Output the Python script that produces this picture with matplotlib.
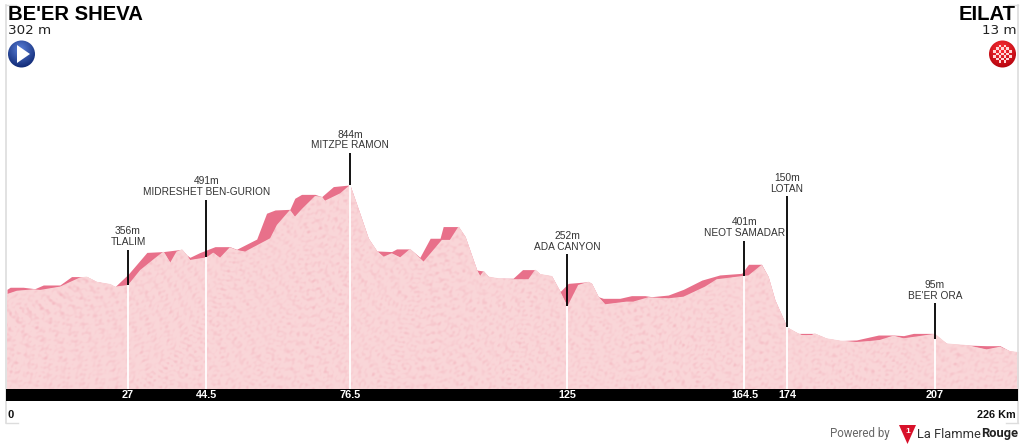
import matplotlib
matplotlib.use("Agg")
import matplotlib.pyplot as plt
from matplotlib.patches import Circle, Polygon, Rectangle
import numpy as np

# outer silhouette of the profile (dark band on top where the road climbs)
outer_km = [0, 0.7, 3.6, 6.2, 8.1, 11.8, 14.4, 17.8, 20.0, 23.0, 24.1, 27.1, 31.2, 34.9, 39.0, 40.1, 40.8,
            43.0, 46.4, 49.7, 51.2, 55.7, 57.9, 59.8, 63.1, 64.2, 65.7, 68.7, 70.2, 72.8, 76.5, 78.7, 80.6,
            82.5, 85.8, 86.9, 89.9, 92.1, 94.4, 96.6, 97.3, 100.7, 102.2, 104.8, 106.3, 107.4, 109.6, 112.9,
            115.0, 117.8, 118.9, 121.5, 123.4, 125.2, 129.7, 130.4, 131.9, 133.0, 136.7, 139.3, 142.3, 143.8,
            147.5, 150.9, 155.0, 159.0, 163.9, 165.4, 168.3, 169.8, 171.3, 174.0, 176.5, 180.2, 182.8, 185.8,
            189.5, 194.4, 197.7, 200.0, 202.2, 206.6, 209.6, 214.1, 218.5, 221.5, 223.7, 225.6]
outer_alt = [335, 345, 345, 338, 356, 356, 397, 397, 372, 361, 348, 410, 515, 519, 530, 502, 491,
             514, 543, 543, 530, 580, 706, 722, 725, 779, 798, 798, 787, 836, 844, 706, 584,
             522, 519, 532, 532, 491, 584, 584, 641, 641, 592, 429, 424, 397, 389, 389,
             431, 431, 410, 400, 324, 364, 372, 364, 299, 291, 291, 304, 304, 299,
             307, 335, 380, 405, 413, 457, 457, 397, 283, 150, 120, 120, 96, 85,
             88, 112, 112, 109, 120, 120, 71, 63, 60, 60, 34, 29]

# lighter ground below the dark band
ground_km = [0, 2.2, 5.9, 7.4, 11.8, 16.3, 17.8, 20.0, 23.0, 24.1, 27.0, 29.7, 33.4, 34.9, 36.4, 37.8, 39.0,
             40.1, 40.8, 44.5, 46.0, 47.5, 49.7, 51.2, 53.1, 58.7, 60.2, 63.1, 64.2, 65.7, 68.7, 70.2, 70.9,
             74.3, 76.5, 78.7, 80.6, 82.5, 84.0, 85.8, 87.7, 89.9, 92.9, 97.0, 98.8, 100.7, 102.2, 104.8,
             105.5, 106.3, 107.4, 109.6, 112.9, 116.3, 117.8, 118.9, 121.5, 123.0, 125.0, 127.4, 129.7, 130.4,
             131.9, 133.4, 138.2, 139.7, 143.0, 147.5, 150.9, 155.7, 158.3, 164.5, 165.4, 168.3, 169.8, 171.3,
             174.0, 176.5, 177.3, 179.5, 180.2, 182.8, 185.8, 189.5, 192.5, 194.7, 197.7, 200.0, 205.1, 207.0,
             209.6, 214.1, 218.5, 221.5, 223.7, 225.6]
ground_alt = [312, 328, 335, 332, 348, 393, 397, 372, 361, 348, 356, 429, 494, 519, 465, 519, 530,
              502, 478, 491, 514, 489, 540, 527, 519, 584, 649, 722, 689, 725, 790, 787, 767,
              803, 844, 706, 584, 522, 494, 511, 491, 532, 470, 576, 576, 641, 592, 429,
              400, 424, 397, 389, 384, 384, 431, 410, 400, 340, 252, 356, 372, 364,
              299, 262, 275, 275, 296, 291, 299, 348, 384, 401, 403, 454, 397, 283,
              150, 120, 112, 112, 120, 96, 85, 78, 83, 88, 109, 96, 112, 118,
              71, 63, 42, 55, 34, 29]

# intermediate points
place_names = ["TLALIM", "MIDRESHET BEN-GURION", "MITZPE RAMON", "ADA CANYON", "NEOT SAMADAR", "LOTAN", "BE'ER ORA"]
place_km = [27, 44.5, 76.5, 125, 164.5, 174, 207]
place_tick = ["27", "44.5", "76.5", "125", "164.5", "174", "207"]
place_alt = [356, 491, 844, 252, 401, 150, 95]
stem_top = [527, 771, 1000, 507, 571, 790, 268]

start_name, start_alt = "BE'ER SHEVA", "302 m"
finish_name, finish_alt = "EILAT", "13 m"

plt.rcParams["font.family"] = ["Liberation Sans", "DejaVu Sans"]
DARK = "#e8708a"
LIGHT = (0.98, 0.84, 0.85)
MOTTLE = (0.955, 0.72, 0.755)
BASE_ALT = -151
FRAME = "#dddddd"
ROUND = ["Roboto", "DejaVu Sans"]

fig = plt.figure(figsize=(10.24, 4.48), dpi=100)

# profile axes: km / metres, lined up to the picture
ax = fig.add_axes([0, 0, 1, 1])
ax.axis("off")

ax.fill_between(outer_km, BASE_ALT, outer_alt, color=DARK, lw=0, zorder=1)
ax.fill_between(ground_km, BASE_ALT, ground_alt, color=LIGHT, lw=0, zorder=2)

# paper-like mottling of the ground, only a decoration
yy, xx = np.mgrid[0:240, 0:1020]
blotch = np.zeros(xx.shape)
for k in range(1, 120):
    angle = k * 2.399963
    freq = 0.35 + 1.2 * ((k * 0.618034) % 1)
    blotch += np.sin(freq * (xx * np.cos(angle) + yy * np.sin(angle)) + k * 1.3)
blotch = np.clip((blotch / blotch.std() + 0.3) / 5.0, 0, 1)[..., None]
texture = np.array(LIGHT)[None, None, :] * (1 - blotch) + np.array(MOTTLE)[None, None, :] * blotch
tex = ax.imshow(texture, extent=(0, 226, BASE_ALT, 900), aspect="auto", zorder=2.5, interpolation="bilinear")
ground_poly = Polygon(list(zip(ground_km, ground_alt)) + [(225.6, BASE_ALT), (0, BASE_ALT)], transform=ax.transData)
tex.set_clip_path(ground_poly)

for km, alt, top in zip(place_km, place_alt, stem_top):
    ax.plot([km, km], [BASE_ALT, alt], color="white", lw=1.3, zorder=3, solid_capstyle="butt")
    ax.plot([km, km], [alt, top], color="black", lw=1.3, zorder=4, solid_capstyle="butt")

ax.set_xlim(-1.561, 226.86)
ax.set_ylim(-439, 1746)

# overlay in picture pixels for the frame, texts and icons
ov = fig.add_axes([0, 0, 1, 1], facecolor="none")
ov.axis("off")

ov.plot([6, 6], [5, 423], color=FRAME, lw=1.2, zorder=1)
ov.plot([1018, 1018], [5, 423], color=FRAME, lw=1.2, zorder=1)
ov.plot([6, 16], [5, 5], color=FRAME, lw=1, zorder=1)
ov.plot([1008, 1018], [5, 5], color=FRAME, lw=1, zorder=1)
ov.plot([6, 18], [423, 423], color=FRAME, lw=1, zorder=1)
ov.plot([1006, 1018], [423, 423], color=FRAME, lw=1, zorder=1)
ov.add_patch(Rectangle((6, 389), 1012, 12.5, color="black", lw=0, zorder=2))

for km, tick, name, alt, top in zip(place_km, place_tick, place_names, place_alt, stem_top):
    px = 7 + km * 4.483
    ov.text(px, 395.5, tick, color="white", fontsize=7.8, fontweight="bold",
            ha="center", va="center", zorder=3)
    py = 358 - top * 0.205
    ov.text(px, py - 2.5, name, color="#333333", fontsize=7.3, ha="center", va="bottom", zorder=3)
    ov.text(px, py - 13.5, f"{alt}m", color="#333333", fontsize=7.4, ha="center", va="bottom", zorder=3)

ov.text(8, 14, start_name, fontsize=14.6, fontweight="bold", color="black", ha="left", va="center")
ov.text(8, 31, start_alt, fontsize=9.7, family="DejaVu Sans", color="#222222", ha="left", va="center")
ov.text(1016, 14, finish_name, fontsize=14.6, fontweight="bold", color="black", ha="right", va="center")
ov.text(1016, 31, finish_alt, fontsize=9.7, family="DejaVu Sans", color="#222222", ha="right", va="center")


def ball(cx, cy, inner, outer):
    # shaded round icon
    gy, gx = np.mgrid[-1:1:60j, -1:1:60j]
    r = np.clip(np.hypot(gx + 0.1, gy + 0.35) / 1.3, 0, 1)[..., None]
    img = np.array(inner)[None, None, :] * (1 - r) + np.array(outer)[None, None, :] * r
    im = ov.imshow(img, extent=(cx - 14, cx + 14, cy + 14, cy - 14), zorder=3, aspect="auto")
    im.set_clip_path(Circle((cx, cy), 13.5, transform=ov.transData))


ball(21.5, 54, (0.35, 0.50, 0.85), (0.07, 0.17, 0.47))
ov.add_patch(Polygon([(17, 45), (17, 63), (30, 54)], color="white", lw=0, zorder=4))

ball(1002.5, 54, (1.0, 0.20, 0.22), (0.72, 0.02, 0.06))
for row in range(7):
    for col in range(7):
        if (row + col) % 2 == 0 and np.hypot(row - 3, col - 3) < 3.7:
            ov.add_patch(Rectangle((993.4 + col * 2.6, 44.9 + row * 2.6), 2.6, 2.6, color="#ffd8d8", lw=0, zorder=4))

ov.set_xlim(0, 1024)
ov.set_ylim(448, 0)

ov.text(8, 415, "0", fontsize=8, fontweight="bold", color="#111111", ha="left", va="center")
ov.text(1016, 415, "226 Km", fontsize=7.8, fontweight="bold", color="#111111", ha="right", va="center")

# footer logo
ov.text(830, 434, "Powered by", fontsize=8.3, family=ROUND, color="#666666", ha="left", va="center")
ov.add_patch(Polygon([(899, 425), (916, 425), (907.5, 444)], color="#d8112a", lw=0))
ov.text(907.5, 431.5, "1", fontsize=6, fontweight="bold", color="white", ha="center", va="center")
ov.text(917, 434, "La Flamme", fontsize=9.3, family=ROUND, color="#333333", ha="left", va="center")
ov.text(981, 434, "Rouge", fontsize=9.3, fontweight="bold", family=ROUND, color="#222222", ha="left", va="center")

fig.savefig("out.png", dpi=100, facecolor="white")
